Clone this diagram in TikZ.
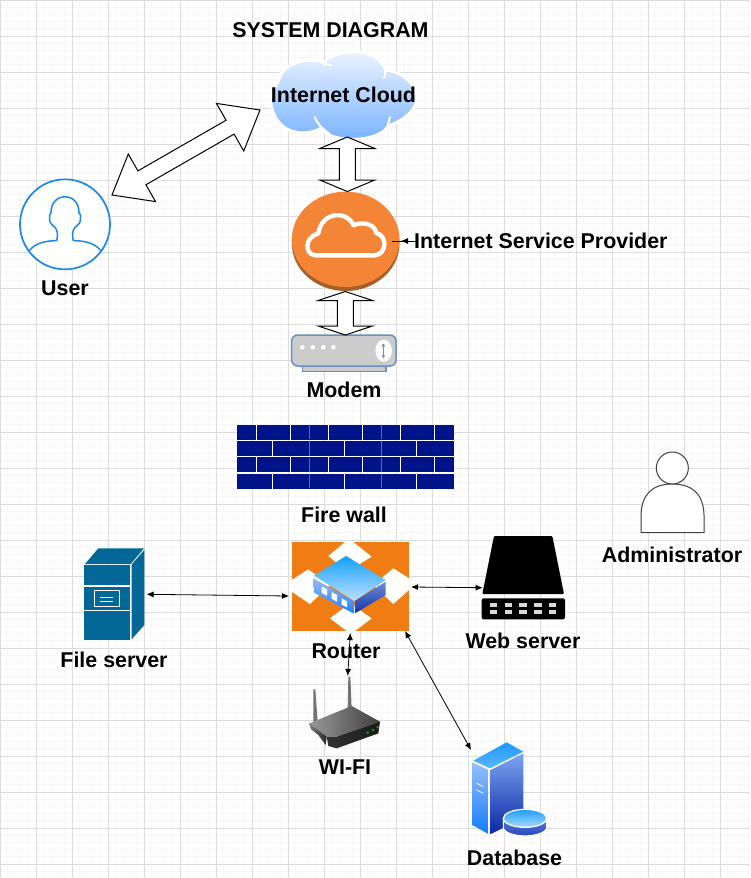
\documentclass[tikz,border=0pt]{standalone}
\usepackage{fontspec}
\setmainfont{Liberation Sans}
\usetikzlibrary{calc,arrows.meta}
\definecolor{gridmajor}{HTML}{DCDCDC}
\definecolor{gridminor}{HTML}{F7F7F7}
\definecolor{ispo}{HTML}{F58536}
\definecolor{ispd}{HTML}{A6602B}
\definecolor{routero}{HTML}{F07D13}
\definecolor{navy}{HTML}{001489}
\definecolor{seam}{HTML}{5A66B8}
\definecolor{fileb}{HTML}{036897}
\definecolor{userb}{HTML}{1A88E8}
\definecolor{modemb}{HTML}{6C8EBF}
\tikzset{
  zoomed/.style 2 args={shift={(#1,#2)},x=0.33333pt,y=-0.33333pt},
  label/.style={font=\bfseries\fontsize{21.4}{25}\selectfont,inner sep=0pt,text=black},
  iconbox/.style={inner sep=0pt,outer sep=0pt,minimum width=#1},
  smallarrow/.style={{Latex[length=7pt,width=6pt]}-{Latex[length=7pt,width=6pt]},line width=0.8pt,black},
  bigarrow/.style n args={3}{draw=black,fill=white,line width=1pt,to path={
    -- ($(\tikztostart)!#1!(\tikztotarget)!#2!90:(\tikztotarget)$)
    -- ($(\tikztostart)!#1!(\tikztotarget)!#3!90:(\tikztotarget)$)
    -- ($(\tikztotarget)!#1!(\tikztostart)!#3!-90:(\tikztostart)$)
    -- ($(\tikztotarget)!#1!(\tikztostart)!#2!-90:(\tikztostart)$)
    -- (\tikztotarget)
    -- ($(\tikztotarget)!#1!(\tikztostart)!#2!90:(\tikztostart)$)
    -- ($(\tikztotarget)!#1!(\tikztostart)!#3!90:(\tikztostart)$)
    -- ($(\tikztostart)!#1!(\tikztotarget)!#3!-90:(\tikztotarget)$)
    -- ($(\tikztostart)!#1!(\tikztotarget)!#2!-90:(\tikztotarget)$)
    -- cycle}}
}
\begin{document}
\begin{tikzpicture}[x=1pt,y=-1pt]
\useasboundingbox (0,0) rectangle (750,878);
\fill[white] (0,0) rectangle (750,878);
% grid
\foreach \i in {0,...,104}{\draw[gridminor,line width=0.8pt] ({\i*7.2},0) -- ({\i*7.2},878);}
\foreach \i in {0,...,121}{\draw[gridminor,line width=0.8pt] (0,{\i*7.2}) -- (750,{\i*7.2});}
\foreach \i in {0,...,20}{\draw[gridmajor,line width=0.8pt] ({\i*36},0) -- ({\i*36},878);}
\foreach \i in {0,...,24}{\draw[gridmajor,line width=0.8pt] (0,{\i*36}) -- (750,{\i*36});}

% anchor boxes of the icons
\node[iconbox=147pt,minimum height=90pt] (cloud) at (343.5,92) {};
\node[iconbox=107.6pt,minimum height=99pt] (isp) at (345.5,241) {};
\node[iconbox=104.3pt,minimum height=36pt] (modem) at (344.3,353) {};
\node[iconbox=91pt,minimum height=91pt] (user) at (65,224.3) {};
\node[iconbox=216pt,minimum height=65pt] (firewall) at (345.7,457) {};
\node[iconbox=63pt,minimum height=81pt] (admin) at (672.5,492) {};
\node[iconbox=117.3pt,minimum height=89pt] (router) at (350.35,586.5) {};
\node[iconbox=60.3pt,minimum height=91.7pt] (fileserver) at (114,594.3) {};
\node[iconbox=83.3pt,minimum height=83.3pt] (webserver) at (523.3,577.7) {};
\node[iconbox=71pt,minimum height=71.3pt] (wifi) at (344.5,712.3) {};
\node[iconbox=75.3pt,minimum height=93pt] (database) at (509.4,788.5) {};

% Internet cloud
\begin{scope}[zoomed={220}{0}]
\path[draw=white,line width=3pt,top color={rgb,255:red,246;green,250;blue,255},bottom color={rgb,255:red,115;green,175;blue,255}]
 (152,310) .. controls (150,275) and (170,260) .. (178,235)
 .. controls (190,190) and (270,165) .. (312,190)
 .. controls (330,150) and (470,130) .. (497,210)
 .. controls (550,215) and (600,260) .. (588,310)
 .. controls (575,345) and (540,365) .. (505,378)
 .. controls (480,425) and (340,435) .. (302,385)
 .. controls (260,410) and (170,410) .. (152,310) -- cycle;
\draw[white,line width=2pt] (283,350) .. controls (295,375) and (310,390) .. (330,402);
\draw[white,line width=2pt] (510,350) .. controls (507,370) and (500,385) .. (490,398);
\draw[white,line width=2pt] (490,235) .. controls (497,225) and (497,218) .. (495,210);
\draw[white,line width=2pt] (312,190) -- (335,197);
\end{scope}

% ISP disc
\begin{scope}[zoomed={270}{180}]
\fill[ispd] (227,190) ellipse [x radius=161.5,y radius=143];
\fill[ispo] (227,178) ellipse [x radius=161.5,y radius=143];
\draw[white,line width=4.4pt,line join=round]
 (135,226) -- (315,226) .. controls (352,222) and (352,165) .. (318,159)
 .. controls (318,135) and (280,122) .. (250,136)
 .. controls (235,92) and (155,92) .. (145,160)
 .. controls (103,172) and (103,222) .. (135,226) -- cycle;
\end{scope}

% modem
\begin{scope}[zoomed={270}{180}]
\draw[modemb,fill=black!20,line width=1.2pt] (97,558) rectangle (348,574);
\draw[modemb,fill=black!20,line width=1.5pt,rounded corners=6pt] (65,465) rectangle (378,558);
\foreach \dx in {97,128,160,190}{\fill[white] (\dx,502) circle [radius=7];}
\fill[white] (341,512) ellipse [x radius=25,y radius=33];
\draw[modemb,line width=1.2pt,{Latex[length=3pt,width=4pt]}-{Latex[length=3pt,width=4pt]}] (340,490) -- (340,535);
\end{scope}

% user
\begin{scope}[zoomed={0}{90}]
\draw[userb,fill=white,line width=1.7pt] (195,403) circle [radius=135];
\draw[userb,line width=1.5pt,line join=round]
 (88,482) .. controls (105,460) and (135,452) .. (170,452)
 .. controls (175,435) and (172,420) .. (165,412)
 .. controls (155,405) and (146,395) .. (149,385)
 .. controls (147,375) and (150,372) .. (153,368)
 .. controls (153,335) and (175,320) .. (195,320)
 .. controls (215,320) and (237,335) .. (237,368)
 .. controls (241,372) and (243,375) .. (241,385)
 .. controls (244,395) and (235,405) .. (225,412)
 .. controls (218,420) and (215,435) .. (220,452)
 .. controls (255,452) and (285,460) .. (303,482);
\end{scope}

% firewall
\begin{scope}[zoomed={225}{415}]
\foreach \ya/\yb in {29/74,127/172}{
 \foreach \xa/\xb in {37/93,97/194,199/253,253/308,312/410,414/469,469/524,528/626,631/687}{
  \fill[navy] (\xa,\ya) rectangle (\xb,\yb);}}
\foreach \ya/\yb in {78/123,176/221}{
 \foreach \xa/\xb in {37/141,145/253,253/356,360/469,469/572,576/687}{
  \fill[navy] (\xa,\ya) rectangle (\xb,\yb);}}
\foreach \sx in {253,469}{
 \draw[seam,line width=0.5pt] (\sx,30) -- (\sx,73) (\sx,79) -- (\sx,122) (\sx,128) -- (\sx,171) (\sx,177) -- (\sx,220);}
\end{scope}

% administrator
\begin{scope}[zoomed={630}{440}]
\draw[black!75,fill=white,line width=1pt] (33,278) -- (222,278) -- (222,225)
 .. controls (220,165) and (190,132) .. (127,132)
 .. controls (65,132) and (35,165) .. (33,225) -- cycle;
\draw[black!75,fill=white,line width=1pt] (127,84) circle [radius=48];
\end{scope}

% router
\begin{scope}[zoomed={270}{530}]
\fill[routero] (65,36) rectangle (417,303);
\fill[white] (175,78) -- (225,36) -- (250,36) -- (305,80) -- (232,125) -- cycle;
\fill[white] (65,150) -- (115,118) -- (180,165) -- (120,222) -- (65,185) -- cycle;
\fill[white] (417,145) -- (370,115) -- (310,165) -- (370,222) -- (417,180) -- cycle;
\fill[white] (180,265) -- (240,220) -- (305,265) -- (255,303) -- (230,303) -- cycle;
\path[top color={rgb,255:red,20;green,160;blue,250},bottom color={rgb,255:red,190;green,225;blue,255}] (132,137) -- (228,78) -- (347,150) -- (253,213) -- cycle;
\path[top color={rgb,255:red,150;green,185;blue,240},bottom color={rgb,255:red,30;green,130;blue,255}] (130,145) -- (250,213) -- (250,250) -- (132,188) -- cycle;
\path[top color={rgb,255:red,110;green,140;blue,210},bottom color={rgb,255:red,20;green,50;blue,170}] (255,213) -- (347,155) -- (347,195) -- (255,250) -- cycle;
\fill[white] (155,169) -- (171,177) -- (171,197) -- (155,189) -- cycle;
\fill[white] (185,186) -- (201,195) -- (201,215) -- (185,206) -- cycle;
\fill[white] (215,205) -- (231,214) -- (231,232) -- (215,224) -- cycle;
\end{scope}

% file server
\begin{scope}[zoomed={60}{530}]
\fill[fileb] (75,102) -- (115,55) -- (252,55) -- (212,102) -- cycle;
\fill[fileb] (215,103) -- (253,60) -- (253,285) -- (215,328) -- cycle;
\fill[fileb] (72,105) rectangle (210,165);
\fill[fileb] (72,170) rectangle (210,240);
\fill[fileb] (72,244) rectangle (210,330);
\draw[white,line width=1pt] (102,181) rectangle (177,229);
\draw[white,line width=1pt] (120,201) -- (160,201) (120,213) -- (160,213);
\end{scope}

% web server
\begin{scope}[zoomed={460}{525}]
\fill[black,rounded corners=1pt] (102,33) -- (277,33) -- (312,207) -- (67,207) -- cycle;
\fill[black,rounded corners=2pt] (65,220) rectangle (315,283);
\foreach \cx in {100,145,189,234,278}{
 \foreach \cy in {240,261}{
  \fill[black!15] (\cx-11,\cy-5) rectangle (\cx+11,\cy+5);}}
\end{scope}

% wifi router
\begin{scope}[zoomed={295}{670}]
\fill[black!55] (55,58) -- (61,58) -- (68,155) -- (55,160) -- cycle;
\fill[black!55] (160,20) -- (166,20) -- (170,115) -- (158,118) -- cycle;
\path[left color=black!40,right color=black!75] (43,160) -- (170,108) -- (255,155) -- (125,200) -- (95,200) -- cycle;
\path[left color=black!50,right color=black!85] (43,160) -- (95,200) -- (92,225) -- (70,195) -- (48,178) -- cycle;
\path[left color=black!80,right color=black!90] (125,200) -- (255,155) -- (250,190) -- (125,235) -- (100,228) -- (95,200) -- cycle;
\fill[green!70!black] (218,188) circle [radius=4];
\fill[green!70!black] (234,180) circle [radius=4];
\fill[green!70!black] (248,172) circle [radius=4];
\end{scope}

% database
\begin{scope}[zoomed={455}{735}]
\path[top color={rgb,255:red,30;green,150;blue,250},bottom color={rgb,255:red,90;green,185;blue,255}] (55,77) -- (155,22) -- (205,50) -- (105,100) -- cycle;
\path[top color={rgb,255:red,150;green,190;blue,250},bottom color={rgb,255:red,20;green,125;blue,255}] (52,82) -- (100,105) -- (100,297) -- (52,270) -- cycle;
\path[top color={rgb,255:red,125;green,165;blue,240},bottom color={rgb,255:red,10;green,40;blue,165}] (107,105) -- (205,55) -- (205,250) -- (107,297) -- cycle;
\draw[white,line width=0.8pt] (65,145) -- (85,155) (65,165) -- (85,175);
\path[draw=white,line width=1pt,top color={rgb,255:red,90;green,130;blue,220},bottom color={rgb,255:red,30;green,60;blue,180}] (145,250) -- (145,280) .. controls (160,310) and (260,310) .. (275,280) -- (275,250) -- cycle;
\path[draw=white,line width=1.2pt,top color={rgb,255:red,30;green,160;blue,250},bottom color={rgb,255:red,170;green,215;blue,255}] (210,250) ellipse [x radius=65,y radius=27];
\end{scope}

% labels
\node[label] (title) at (330.5,30) {SYSTEM DIAGRAM};
\node[label] (cloudlabel) at (343.5,95) {Internet Cloud};
\node[label,anchor=west] (isplabel) at (414,241) {Internet Service Provider};
\node[label] (userlabel) at (65,288) {User};
\node[label] (modemlabel) at (344,390) {Modem};
\node[label] (firewalllabel) at (344,515) {Fire wall};
\node[label] (adminlabel) at (672,555) {Administrator};
\node[label] (filelabel) at (114,660) {File server};
\node[label] (routerlabel) at (346,651) {Router};
\node[label] (weblabel) at (523,641) {Web server};
\node[label] (wifilabel) at (345,767) {WI-FI};
\node[label] (dblabel) at (514.5,858) {Database};

% connectors
\draw[bigarrow={34.5pt}{27.4pt}{8pt}] ([shift={(1.5,16.2)}]user.north east) to ([shift={(-10,18)}]cloud.west);
\draw[bigarrow={11.5pt}{27.5pt}{8pt}] ([shift={(3.8,0)}]cloud.south) to ([shift={(1.8,0)}]isp.north);
\draw[bigarrow={9pt}{27.2pt}{8pt}] ([shift={(-0.2,1)}]isp.south) to ([shift={(1,0)}]modem.north);
\draw[line width=0.8pt] ([shift={(-7,0)}]isp.east) -- ([shift={(2.5,0)}]isplabel.west);
\draw[line width=0.8pt,-{Latex[length=7pt,width=6pt]}] ([shift={(2.5,0)}]isplabel.west) -- ([shift={(1.7,0)}]isp.east);
\draw[smallarrow] ([shift={(2.4,0)}]fileserver.east) -- ([shift={(-2.7,9.5)}]router.west);
\draw[smallarrow] ([shift={(2,0.5)}]router.east) -- ([shift={(1,10)}]webserver.west);
\draw[smallarrow] ([shift={(0,2)}]router.south) -- ([shift={(3.2,-0.7)}]wifi.north);
\draw[smallarrow] ([shift={(-4,0)}]router.south east) -- ([shift={(-0.7,8)}]database.north west);
\end{tikzpicture}
\end{document}
